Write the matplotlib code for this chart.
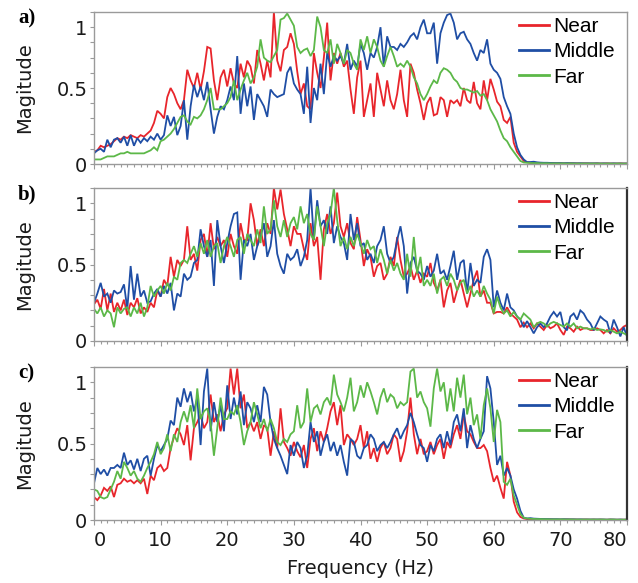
import numpy as np
import matplotlib
matplotlib.use("Agg")
import matplotlib.pyplot as plt
from matplotlib.ticker import MultipleLocator, FixedLocator

# ---------------- data (magnitude spectra, 0.5 Hz bins, 0..80 Hz) ----------------
freq_step = 0.5
series_labels = ["Near", "Middle", "Far"]
panel_labels = ["a)", "b)", "c)"]
x_ticks = [0, 10, 20, 30, 40, 50, 60, 70, 80]
y_tick_pos = [0, 0.5, 0.9]
y_tick_labels = ["0", "0.5", "1"]

near_a = [
    0.08, 0.09, 0.12, 0.11, 0.12, 0.13, 0.15, 0.17, 0.16, 0.18,
    0.17, 0.19, 0.18, 0.17, 0.19, 0.18, 0.20, 0.22, 0.27, 0.35,
    0.33, 0.30, 0.44, 0.50, 0.46, 0.40, 0.36, 0.42, 0.62, 0.55,
    0.50, 0.60, 0.49, 0.61, 0.77, 0.76, 0.55, 0.42, 0.57, 0.62,
    0.51, 0.63, 0.53, 0.50, 0.66, 0.57, 0.68, 0.64, 0.53, 0.75,
    0.66, 0.55, 0.68, 0.57, 1.00, 0.68, 0.61, 0.75, 0.77, 0.86,
    0.79, 0.61, 0.46, 0.53, 0.38, 0.36, 0.73, 0.60, 0.50, 0.70,
    0.93, 0.55, 0.73, 0.66, 0.73, 0.64, 0.68, 0.49, 0.33, 0.57,
    0.68, 0.31, 0.42, 0.53, 0.31, 0.60, 0.49, 0.38, 0.55, 0.42,
    0.36, 0.46, 0.62, 0.42, 0.31, 0.66, 0.60, 0.49, 0.40, 0.29,
    0.40, 0.44, 0.32, 0.33, 0.44, 0.42, 0.31, 0.42, 0.40, 0.42,
    0.38, 0.50, 0.42, 0.40, 0.54, 0.40, 0.36, 0.55, 0.42, 0.56,
    0.49, 0.41, 0.38, 0.29, 0.27, 0.31, 0.14, 0.08, 0.05, 0.02,
    0.012, 0.008, 0.007, 0.006, 0.006, 0.005, 0.006, 0.005, 0.005, 0.004,
    0.005, 0.004, 0.004, 0.005, 0.004, 0.004, 0.003, 0.004, 0.004, 0.003,
    0.003, 0.004, 0.003, 0.003, 0.004, 0.003, 0.003, 0.003, 0.004, 0.003,
    0.003]

middle_a = [
    0.07, 0.09, 0.10, 0.08, 0.16, 0.11, 0.16, 0.17, 0.14, 0.18,
    0.12, 0.19, 0.12, 0.17, 0.14, 0.17, 0.15, 0.18, 0.16, 0.20,
    0.16, 0.19, 0.32, 0.25, 0.31, 0.19, 0.25, 0.42, 0.16, 0.38,
    0.52, 0.44, 0.51, 0.42, 0.54, 0.36, 0.20, 0.31, 0.38, 0.36,
    0.42, 0.51, 0.42, 0.71, 0.33, 0.53, 0.38, 0.51, 0.29, 0.46,
    0.42, 0.38, 0.31, 0.49, 0.46, 0.44, 0.45, 0.46, 0.60, 0.64,
    0.53, 0.49, 0.46, 0.33, 0.64, 0.27, 0.50, 0.42, 0.66, 0.46,
    0.73, 0.64, 0.71, 0.68, 0.71, 0.66, 0.79, 0.62, 0.68, 0.64,
    0.79, 0.73, 0.62, 0.73, 0.70, 0.77, 0.90, 0.64, 0.84, 0.77,
    0.77, 0.75, 0.79, 0.77, 0.80, 0.84, 0.86, 0.82, 0.90, 0.95,
    0.86, 0.86, 0.93, 0.66, 0.86, 0.93, 0.98, 0.99, 0.93, 0.82,
    0.86, 0.87, 0.82, 0.79, 0.73, 0.68, 0.75, 0.73, 0.82, 0.66,
    0.62, 0.60, 0.56, 0.44, 0.38, 0.33, 0.20, 0.11, 0.06, 0.03,
    0.012, 0.013, 0.015, 0.011, 0.009, 0.008, 0.008, 0.007, 0.006, 0.006,
    0.006, 0.005, 0.006, 0.005, 0.005, 0.004, 0.005, 0.004, 0.004, 0.004,
    0.004, 0.004, 0.003, 0.004, 0.003, 0.003, 0.004, 0.003, 0.003, 0.003,
    0.003]

far_a = [
    0.03, 0.03, 0.03, 0.04, 0.05, 0.05, 0.05, 0.06, 0.07, 0.07,
    0.08, 0.07, 0.07, 0.07, 0.07, 0.07, 0.08, 0.09, 0.11, 0.09,
    0.15, 0.16, 0.18, 0.20, 0.23, 0.27, 0.31, 0.32, 0.28, 0.26,
    0.31, 0.30, 0.32, 0.36, 0.42, 0.50, 0.36, 0.36, 0.36, 0.38,
    0.40, 0.44, 0.55, 0.42, 0.49, 0.55, 0.60, 0.53, 0.57, 0.64,
    0.82, 0.70, 0.68, 0.67, 0.71, 0.75, 0.95, 0.96, 0.99, 0.95,
    0.91, 0.77, 0.73, 0.75, 0.76, 0.71, 0.75, 0.97, 0.90, 0.75,
    0.73, 0.82, 0.66, 0.79, 0.73, 0.66, 0.75, 0.73, 0.66, 0.62,
    0.82, 0.75, 0.84, 0.73, 0.82, 0.77, 0.68, 0.64, 0.71, 0.77,
    0.71, 0.64, 0.66, 0.64, 0.68, 0.64, 0.57, 0.53, 0.46, 0.42,
    0.46, 0.51, 0.55, 0.53, 0.60, 0.63, 0.62, 0.60, 0.56, 0.54,
    0.50, 0.49, 0.49, 0.48, 0.47, 0.48, 0.45, 0.46, 0.42, 0.36,
    0.32, 0.28, 0.22, 0.17, 0.15, 0.11, 0.08, 0.05, 0.02, 0.01,
    0.008, 0.007, 0.006, 0.006, 0.005, 0.005, 0.005, 0.004, 0.004, 0.004,
    0.004, 0.004, 0.003, 0.004, 0.003, 0.003, 0.003, 0.003, 0.003, 0.003,
    0.003, 0.003, 0.003, 0.002, 0.003, 0.003, 0.002, 0.003, 0.003, 0.002,
    0.003]

near_b = [
    0.24, 0.27, 0.21, 0.34, 0.20, 0.31, 0.19, 0.25, 0.20, 0.27,
    0.17, 0.25, 0.22, 0.28, 0.18, 0.22, 0.19, 0.25, 0.22, 0.33,
    0.29, 0.40, 0.36, 0.55, 0.42, 0.53, 0.49, 0.53, 0.75, 0.53,
    0.57, 0.46, 0.66, 0.70, 0.55, 0.77, 0.60, 0.68, 0.62, 0.66,
    0.55, 0.70, 0.62, 0.57, 0.77, 0.66, 0.66, 0.90, 0.79, 0.62,
    0.73, 0.62, 0.77, 0.70, 1.00, 0.86, 0.99, 0.83, 0.73, 0.62,
    0.75, 0.70, 0.70, 0.60, 0.53, 0.77, 0.62, 0.68, 0.40, 0.73,
    0.83, 0.70, 0.77, 0.97, 0.75, 0.68, 0.77, 0.64, 0.60, 0.81,
    0.66, 0.49, 0.60, 0.55, 0.42, 0.49, 0.51, 0.40, 0.44, 0.55,
    0.49, 0.68, 0.53, 0.42, 0.44, 0.49, 0.40, 0.46, 0.38, 0.44,
    0.42, 0.51, 0.38, 0.33, 0.40, 0.22, 0.33, 0.38, 0.25, 0.33,
    0.40, 0.31, 0.22, 0.31, 0.40, 0.46, 0.29, 0.33, 0.25, 0.25,
    0.18, 0.19, 0.19, 0.18, 0.22, 0.18, 0.16, 0.14, 0.09, 0.12,
    0.09, 0.115, 0.083, 0.115, 0.094, 0.072, 0.105, 0.083, 0.094, 0.115,
    0.072, 0.04, 0.094, 0.083, 0.061, 0.094, 0.072, 0.083, 0.083, 0.072,
    0.072, 0.083, 0.072, 0.05, 0.072, 0.05, 0.083, 0.061, 0.072, 0.094,
    0.105]

middle_b = [
    0.25, 0.31, 0.38, 0.29, 0.31, 0.25, 0.33, 0.31, 0.32, 0.37,
    0.21, 0.49, 0.27, 0.44, 0.29, 0.33, 0.25, 0.26, 0.31, 0.34,
    0.29, 0.36, 0.31, 0.38, 0.20, 0.31, 0.29, 0.44, 0.40, 0.42,
    0.51, 0.53, 0.73, 0.62, 0.55, 0.66, 0.36, 0.79, 0.62, 0.51,
    0.64, 0.75, 0.83, 0.84, 0.40, 0.66, 0.62, 0.70, 0.53, 0.62,
    0.68, 0.77, 0.55, 0.62, 0.79, 0.57, 0.49, 0.44, 0.57, 0.53,
    0.55, 0.60, 0.49, 0.55, 0.66, 1.00, 0.66, 0.92, 0.75, 0.79,
    0.70, 0.88, 0.64, 0.75, 0.68, 0.64, 0.53, 0.83, 0.66, 0.77,
    0.62, 0.64, 0.53, 0.57, 0.51, 0.62, 0.66, 0.75, 0.57, 0.51,
    0.55, 0.66, 0.75, 0.62, 0.31, 0.51, 0.55, 0.46, 0.44, 0.40,
    0.49, 0.42, 0.46, 0.57, 0.44, 0.46, 0.40, 0.49, 0.59, 0.40,
    0.51, 0.53, 0.31, 0.51, 0.36, 0.40, 0.38, 0.55, 0.60, 0.53,
    0.22, 0.33, 0.25, 0.20, 0.31, 0.22, 0.20, 0.16, 0.14, 0.09,
    0.13, 0.09, 0.05, 0.09, 0.115, 0.09, 0.115, 0.16, 0.19, 0.16,
    0.19, 0.09, 0.07, 0.16, 0.18, 0.14, 0.20, 0.18, 0.14, 0.115,
    0.07, 0.115, 0.16, 0.14, 0.125, 0.05, 0.14, 0.09, 0.03, 0.09,
    0.03]

far_b = [
    0.21, 0.18, 0.22, 0.16, 0.20, 0.18, 0.09, 0.22, 0.18, 0.21,
    0.22, 0.16, 0.22, 0.18, 0.25, 0.16, 0.22, 0.36, 0.29, 0.33,
    0.36, 0.31, 0.38, 0.33, 0.42, 0.40, 0.51, 0.53, 0.51, 0.57,
    0.62, 0.55, 0.64, 0.57, 0.66, 0.55, 0.62, 0.64, 0.51, 0.62,
    0.68, 0.62, 0.55, 0.66, 0.68, 0.57, 0.70, 0.66, 0.62, 0.73,
    0.64, 0.88, 0.70, 0.73, 0.92, 0.75, 0.68, 0.79, 0.68, 0.77,
    0.81, 0.73, 0.88, 0.77, 0.83, 0.70, 0.66, 0.88, 0.75, 0.62,
    0.77, 0.83, 1.00, 0.79, 0.62, 0.68, 0.60, 0.68, 0.62, 0.70,
    0.64, 0.57, 0.66, 0.60, 0.62, 0.51, 0.60, 0.53, 0.44, 0.53,
    0.46, 0.51, 0.44, 0.40, 0.57, 0.42, 0.68, 0.44, 0.55, 0.36,
    0.40, 0.36, 0.44, 0.31, 0.40, 0.42, 0.36, 0.44, 0.40, 0.33,
    0.38, 0.40, 0.31, 0.36, 0.29, 0.33, 0.29, 0.36, 0.31, 0.27,
    0.18, 0.29, 0.22, 0.18, 0.20, 0.16, 0.19, 0.16, 0.14, 0.18,
    0.16, 0.14, 0.09, 0.115, 0.125, 0.115, 0.094, 0.115, 0.125, 0.115,
    0.105, 0.094, 0.115, 0.094, 0.115, 0.083, 0.094, 0.083, 0.083, 0.076,
    0.083, 0.072, 0.076, 0.072, 0.061, 0.072, 0.061, 0.05, 0.061, 0.05,
    0.04]

near_c = [
    0.15, 0.13, 0.16, 0.21, 0.19, 0.22, 0.15, 0.23, 0.24, 0.27,
    0.25, 0.26, 0.24, 0.26, 0.24, 0.27, 0.17, 0.29, 0.26, 0.34,
    0.36, 0.32, 0.34, 0.47, 0.54, 0.60, 0.56, 0.49, 0.62, 0.39,
    0.60, 0.64, 0.69, 0.60, 0.64, 0.82, 0.64, 0.69, 0.58, 0.69,
    0.73, 0.99, 0.82, 0.99, 0.73, 0.82, 0.60, 0.64, 0.58, 0.64,
    0.53, 0.62, 0.60, 0.42, 0.58, 0.47, 0.73, 0.51, 0.47, 0.42,
    0.51, 0.45, 0.41, 0.49, 0.34, 0.53, 0.60, 0.45, 0.58, 0.51,
    0.60, 0.71, 0.77, 0.62, 0.75, 0.49, 0.56, 0.53, 0.49, 0.53,
    0.62, 0.47, 0.58, 0.40, 0.47, 0.38, 0.47, 0.51, 0.43, 0.47,
    0.56, 0.53, 0.38, 0.45, 0.58, 0.80, 0.56, 0.43, 0.53, 0.43,
    0.45, 0.51, 0.43, 0.49, 0.53, 0.40, 0.51, 0.47, 0.56, 0.62,
    0.53, 0.69, 0.58, 0.56, 0.51, 0.47, 0.47, 0.49, 0.45, 0.34,
    0.25, 0.29, 0.21, 0.14, 0.38, 0.29, 0.12, 0.05, 0.02, 0.01,
    0.006, 0.005, 0.005, 0.004, 0.004, 0.004, 0.003, 0.004, 0.003, 0.003,
    0.003, 0.003, 0.004, 0.003, 0.003, 0.003, 0.002, 0.003, 0.003, 0.002,
    0.003, 0.002, 0.003, 0.002, 0.002, 0.003, 0.002, 0.002, 0.002, 0.002,
    0.002]

middle_c = [
    0.24, 0.34, 0.30, 0.33, 0.29, 0.34, 0.34, 0.36, 0.34, 0.44,
    0.36, 0.39, 0.33, 0.40, 0.32, 0.40, 0.42, 0.29, 0.40, 0.49,
    0.45, 0.49, 0.53, 0.65, 0.62, 0.80, 0.74, 0.86, 0.77, 0.84,
    0.71, 0.80, 0.49, 0.84, 0.99, 0.58, 0.77, 0.64, 0.75, 0.58,
    0.88, 0.66, 0.80, 0.69, 0.84, 0.62, 0.77, 0.73, 0.64, 0.75,
    0.64, 0.87, 0.82, 0.64, 0.53, 0.47, 0.42, 0.36, 0.30, 0.49,
    0.42, 0.51, 0.47, 0.34, 0.42, 0.64, 0.51, 0.58, 0.42, 0.51,
    0.56, 0.45, 0.51, 0.42, 0.49, 0.38, 0.29, 0.53, 0.51, 0.42,
    0.40, 0.47, 0.49, 0.56, 0.53, 0.45, 0.49, 0.51, 0.47, 0.51,
    0.56, 0.60, 0.53, 0.58, 0.62, 0.70, 0.64, 0.56, 0.49, 0.47,
    0.38, 0.49, 0.45, 0.53, 0.56, 0.47, 0.58, 0.49, 0.64, 0.69,
    0.58, 0.73, 0.47, 0.62, 0.53, 0.47, 0.53, 0.58, 0.94, 0.86,
    0.64, 0.36, 0.42, 0.29, 0.34, 0.29, 0.20, 0.14, 0.06, 0.015,
    0.01, 0.012, 0.009, 0.008, 0.007, 0.006, 0.006, 0.005, 0.005, 0.005,
    0.004, 0.005, 0.004, 0.004, 0.004, 0.003, 0.004, 0.003, 0.003, 0.003,
    0.003, 0.003, 0.003, 0.003, 0.002, 0.003, 0.003, 0.002, 0.003, 0.002,
    0.002]

far_c = [
    0.20, 0.19, 0.15, 0.14, 0.15, 0.20, 0.25, 0.32, 0.27, 0.38,
    0.34, 0.29, 0.32, 0.27, 0.25, 0.29, 0.34, 0.38, 0.43, 0.51,
    0.43, 0.47, 0.56, 0.45, 0.56, 0.51, 0.64, 0.71, 0.64, 0.75,
    0.60, 0.86, 0.66, 0.71, 0.73, 0.64, 0.42, 0.60, 0.80, 0.66,
    0.66, 0.71, 0.69, 0.75, 0.64, 0.49, 0.58, 0.64, 0.77, 0.69,
    0.60, 0.66, 0.58, 0.66, 0.60, 0.51, 0.49, 0.53, 0.51, 0.56,
    0.58, 0.75, 0.60, 0.64, 0.86, 0.64, 0.73, 0.75, 0.69, 0.77,
    0.80, 0.75, 0.95, 0.82, 0.77, 0.71, 0.80, 0.93, 0.71, 0.77,
    0.88, 0.80, 0.90, 0.84, 0.77, 0.69, 0.80, 0.86, 0.77, 0.82,
    0.80, 0.73, 0.77, 0.75, 0.77, 0.97, 0.99, 0.80, 0.84, 0.77,
    0.73, 0.61, 0.86, 0.99, 0.84, 0.90, 0.71, 0.86, 0.71, 0.93,
    0.80, 0.95, 0.69, 0.80, 0.62, 0.69, 0.53, 0.75, 0.86, 0.73,
    0.51, 0.72, 0.64, 0.25, 0.23, 0.27, 0.16, 0.10, 0.04, 0.015,
    0.01, 0.008, 0.007, 0.006, 0.006, 0.005, 0.005, 0.004, 0.004, 0.004,
    0.004, 0.004, 0.003, 0.004, 0.003, 0.003, 0.003, 0.003, 0.003, 0.003,
    0.003, 0.003, 0.003, 0.003, 0.002, 0.003, 0.003, 0.002, 0.002, 0.002,
    0.003]

panels = [
    (near_a, middle_a, far_a),
    (near_b, middle_b, far_b),
    (near_c, middle_c, far_c),
]

# ---------------- styling ----------------
colors = ["#e8252b", "#1f4ea5", "#5cb848"]
spine_gray = "#9a9a9a"
W, H = 638, 583
fig = plt.figure(figsize=(W / 100, H / 100), dpi=100)

left, right = 94, 627
axes_px = [(12, 164), (188, 341), (367, 520)]

for i, (series, (top, bot)) in enumerate(zip(panels, axes_px)):
    ax = fig.add_axes([left / W, 1 - bot / H, (right - left) / W, (bot - top) / H])
    for vals, lab, col in zip(series, series_labels, colors):
        f = np.arange(len(vals)) * freq_step
        ax.plot(f, vals, color=col, lw=1.3, label=lab, solid_joinstyle="miter")
    ax.set_xlim(0, 80)
    ax.set_ylim(0, 1.0)
    ax.xaxis.set_major_locator(FixedLocator(x_ticks))
    ax.xaxis.set_minor_locator(MultipleLocator(1))
    ax.yaxis.set_major_locator(FixedLocator(y_tick_pos))
    ax.set_yticklabels(y_tick_labels)
    ax.yaxis.set_minor_locator(MultipleLocator(0.1))
    ax.tick_params(axis="y", which="major", direction="out", length=3.2, width=0.8,
                   color=spine_gray, labelsize=14, pad=1.5, labelcolor="#1a1a1a")
    ax.tick_params(axis="y", which="minor", direction="out", length=2.6, width=0.8,
                   color=spine_gray)
    ax.tick_params(axis="x", which="major", direction="out", length=3.6, width=0.8,
                   color=spine_gray, labelsize=14, pad=4, labelcolor="#1a1a1a")
    ax.tick_params(axis="x", which="minor", direction="out", length=2.2, width=0.8,
                   color=spine_gray)
    for s in ax.spines.values():
        s.set_color(spine_gray)
        s.set_linewidth(1.0)
    if i > 0:
        ax.spines["right"].set_color("#333333")
        ax.spines["right"].set_linewidth(1.6)
    if i < 2:
        ax.tick_params(axis="x", labelbottom=False)
    else:
        ax.set_xticks(x_ticks)
        ax.set_xticklabels([str(t) for t in x_ticks])
        tl = ax.get_xticklabels()
        tl[0].set_horizontalalignment("left")
        tl[-1].set_horizontalalignment("right")

    leg = ax.legend(loc="upper left", bbox_to_anchor=(0.797, 0.967), frameon=False,
                    borderpad=0, borderaxespad=0, handlelength=1.45, handletextpad=0.18,
                    labelspacing=0.3, prop={"family": "Liberation Sans", "size": 15})
    for h in leg.get_lines():
        h.set_linewidth(2.0)

    # panel letter
    fig.text(18 / W, 1 - (top + 6) / H, panel_labels[i], fontsize=15, fontweight="bold",
             family="Liberation Serif", ha="left", va="center")
    # y label
    fig.text(25 / W, 1 - ((top + bot) / 2) / H, "Magitude", rotation=90, fontsize=14,
             ha="center", va="center", color="#1a1a1a")

fig.text(((left + right) / 2) / W, 1 - 568 / H, "Frequency (Hz)", fontsize=14,
         ha="center", va="center", color="#1a1a1a")

fig.savefig("out.png", dpi=100)
